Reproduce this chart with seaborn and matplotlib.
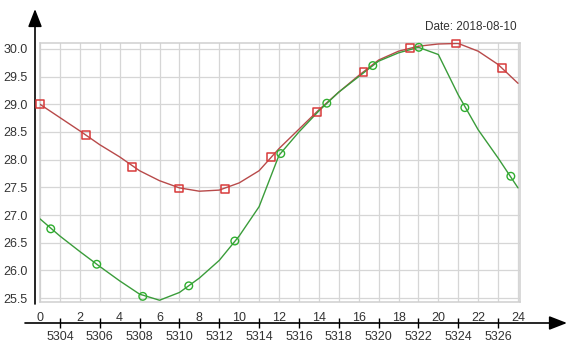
import matplotlib
matplotlib.use("Agg")
import matplotlib.pyplot as plt
import seaborn as sns

# Hourly readings (hour of day 0..24)
hours = list(range(25))
red_line = [29.00, 28.76, 28.52, 28.27, 28.05, 27.80, 27.62, 27.49, 27.43, 27.45,
            27.58, 27.80, 28.20, 28.55, 28.90, 29.22, 29.52, 29.80, 29.96, 30.05,
            30.09, 30.10, 29.96, 29.72, 29.38]
green_line = [26.93, 26.62, 26.34, 26.07, 25.81, 25.57, 25.46, 25.60, 25.86, 26.18,
              26.62, 27.15, 28.08, 28.50, 28.88, 29.22, 29.50, 29.78, 29.93, 30.03,
              29.90, 29.17, 28.54, 28.03, 27.49]

# Sampled marker points
red_mark_x = [0.0, 2.32, 4.64, 6.96, 9.28, 11.60, 13.92, 16.24, 18.56, 20.88, 23.20]
red_mark_y = [29.00, 28.44, 27.87, 27.48, 27.47, 28.05, 28.86, 29.59, 30.01, 30.10, 29.66]
green_mark_x = [0.54, 2.85, 5.16, 7.47, 9.78, 12.09, 14.40, 16.71, 19.02, 21.33, 23.64]
green_mark_y = [26.75, 26.11, 25.53, 25.72, 26.53, 28.11, 29.02, 29.70, 30.03, 28.94, 27.70]

hour_ticks = list(range(0, 25, 2))
y_ticks = [25.5, 26.0, 26.5, 27.0, 27.5, 28.0, 28.5, 29.0, 29.5, 30.0]
index_ticks = list(range(5304, 5327, 2))
index_offset = 5303
date_label = "Date: 2018-08-10"

sns.set_theme(style="white")
plt.rcParams["font.family"] = ["Liberation Sans", "DejaVu Sans"]

W, H = 569, 342
fig = plt.figure(figsize=(W / 100, H / 100), dpi=100)
fig.patch.set_facecolor("white")

left, right, top, bottom = 40, 520, 43, 302
ax = fig.add_axes([left / W, 1 - bottom / H, (right - left) / W, (bottom - top) / H])
ax.set_facecolor("white")

RED_LINE = "#b84a4a"
RED_MARK = "#d83a3a"
GREEN_LINE = "#3a9c3a"
GREEN_MARK = "#2fae2f"

sns.lineplot(x=hours, y=red_line, color=RED_LINE, linewidth=1.0, ax=ax, zorder=3)
sns.lineplot(x=hours, y=green_line, color=GREEN_LINE, linewidth=1.0, ax=ax, zorder=4)
sns.scatterplot(x=red_mark_x, y=red_mark_y, marker="s", s=32, color=RED_MARK,
                facecolor="none", edgecolor=RED_MARK, linewidth=1.1, ax=ax,
                zorder=5, clip_on=False)
sns.scatterplot(x=green_mark_x, y=green_mark_y, marker="o", s=30, color=GREEN_MARK,
                facecolor="none", edgecolor=GREEN_MARK, linewidth=1.0, ax=ax,
                zorder=6, clip_on=False)

ax.set_xlim(0, 24.1)
ax.set_ylim(25.428, 30.108)

# grid: every hour vertically, every 0.5 horizontally
ax.set_xticks(hour_ticks)
ax.set_xticks([h for h in hours if h % 2 == 1], minor=True)
ax.set_yticks(y_ticks)
ax.set_yticklabels([f"{v:.1f}" for v in y_ticks])
ax.grid(True, which="both", color="#d6d6d6", linewidth=0.9)
ax.set_axisbelow(True)
for s in ax.spines.values():
    s.set_color("#d0d0d0")
    s.set_linewidth(1.1)

ax.tick_params(axis="x", which="both", length=0, pad=7.5, labelsize=9, labelcolor="#333333")
ax.tick_params(axis="y", which="major", direction="out", length=8, width=1.0,
               color="black", pad=1, labelsize=9, labelcolor="#333333")
ax.set_xlabel("")
ax.set_ylabel("")

# second hour scale (index numbers) below the hour labels
sec = ax.secondary_xaxis(-(323 - bottom) / (bottom - top),
                         functions=(lambda x: x + index_offset, lambda x: x - index_offset))
sec.set_xticks(index_ticks)
sec.spines["bottom"].set_visible(False)
sec.tick_params(axis="x", direction="inout", length=7, width=1.0, color="black",
                pad=2.5, labelsize=9, labelcolor="#333333")

# black arrow axes
arrow = dict(arrowstyle="-|>,head_length=0.9,head_width=0.35", color="black",
             lw=1.2, shrinkA=0, shrinkB=0, mutation_scale=12)
ax.annotate("", xy=(35, H - 9), xytext=(35, H - 304), xycoords="figure pixels",
            textcoords="figure pixels", arrowprops=arrow, annotation_clip=False)
ax.annotate("", xy=(567, H - 323), xytext=(25, H - 323), xycoords="figure pixels",
            textcoords="figure pixels", arrowprops=arrow, annotation_clip=False)

fig.text(517 / W, 1 - 27 / H, date_label, ha="right", va="center",
         fontsize=8.5, color="#333333")

fig.savefig("out.png", dpi=100, facecolor="white")
